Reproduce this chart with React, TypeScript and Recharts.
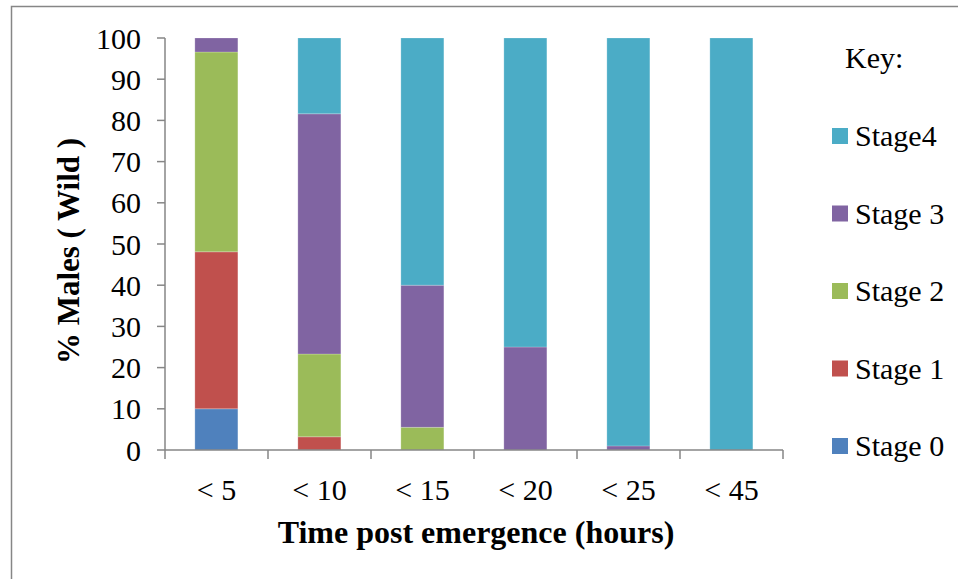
import React from 'react';
import { BarChart, Bar, XAxis, YAxis, Legend } from 'recharts';

const categories = ['< 5', '< 10', '< 15', '< 20', '< 25', '< 45'];
const stage0 = [10, 0, 0, 0, 0, 0];
const stage1 = [38.1, 3.2, 0, 0, 0, 0];
const stage2 = [48.5, 20.1, 5.5, 0, 0, 0];
const stage3 = [3.4, 58.3, 34.5, 25, 1, 0];
const stage4 = [0, 18.4, 60, 75, 99, 100];
const yTicks = [0, 10, 20, 30, 40, 50, 60, 70, 80, 90, 100];

const seriesNames = ['Stage 0', 'Stage 1', 'Stage 2', 'Stage 3', 'Stage4'];
const seriesColors = ['#4F81BD', '#C0504D', '#9BBB59', '#8064A2', '#4BACC6'];
const seriesValues = [stage0, stage1, stage2, stage3, stage4];

const data = categories.map((c, i) => {
  const row: Record<string, any> = { cat: c };
  seriesNames.forEach((n, k) => {
    row[n] = seriesValues[k][i];
  });
  return row;
});

const FONT = '"Liberation Serif", "Times New Roman", serif';
const AXIS = '#868686';
const X_TICK_SIZE = 9;
const X_TICK_MARGIN = 20;

const XTick = (props: any) => {
  const { x, y, payload, index, visibleTicksCount } = props;
  const half = payload && typeof payload.offset === 'number' ? payload.offset : 0;
  const axisY = y - X_TICK_SIZE - X_TICK_MARGIN;
  const isLast = index === (visibleTicksCount ?? categories.length) - 1;
  return (
    <g>
      {half > 0 && (
        <line x1={x - half} y1={axisY} x2={x - half} y2={axisY + X_TICK_SIZE} stroke={AXIS} strokeWidth={1.5} />
      )}
      {half > 0 && isLast && (
        <line x1={x + half} y1={axisY} x2={x + half} y2={axisY + X_TICK_SIZE} stroke={AXIS} strokeWidth={1.5} />
      )}
      <text x={x} y={y} dy="0.71em" textAnchor="middle" fontFamily={FONT} fontSize={30} fill="#000">
        {payload.value}
      </text>
    </g>
  );
};

const LegendContent = (props: any) => {
  const items = [...(props.payload || [])].reverse();
  return (
    <svg
      width={140}
      height={480}
      style={{ position: 'absolute', left: 820, top: 20, overflow: 'visible' }}
    >
      <text x={25} y={48} fontFamily={FONT} fontSize={30} fill="#000">
        Key:
      </text>
      {items.map((it: any, i: number) => {
        const cy = 116 + i * 77.5;
        return (
          <g key={it.value}>
            <rect x={12} y={cy - 8} width={16} height={16} fill={it.color} />
            <text x={35} y={cy + 10} fontFamily={FONT} fontSize={30} fill="#000">
              {it.value}
            </text>
          </g>
        );
      })}
    </svg>
  );
};

const YLabel = (props: any) => {
  const vb = props.viewBox || { x: 0, y: 0, width: 0, height: 0 };
  const cx = vb.x + 58;
  const cy = vb.y + vb.height / 2 + 7;
  return (
    <text
      x={cx}
      y={cy}
      transform={`rotate(-90 ${cx} ${cy})`}
      textAnchor="middle"
      dominantBaseline="central"
      fontFamily={FONT}
      fontWeight="bold"
      fontSize={31}
      fill="#000"
    >
      % Males ( Wild )
    </text>
  );
};

const XLabel = (props: any) => {
  const vb = props.viewBox || { x: 0, y: 0, width: 0, height: 0 };
  const cx = vb.x + vb.width / 2 + 2;
  const cy = vb.y + 93;
  return (
    <text x={cx} y={cy} textAnchor="middle" fontFamily={FONT} fontWeight="bold" fontSize={32} fill="#000">
      Time post emergence (hours)
    </text>
  );
};

export default function App() {
  return (
    <div style={{ position: 'absolute', left: 0, top: 0, width: 958, height: 579, background: '#fff' }}>
      <div style={{ position: 'absolute', left: 0, top: 0, width: 958, height: 579, overflow: 'hidden' }}>
        <BarChart
          width={958}
          height={579}
          data={data}
          margin={{ top: 38, right: 175, bottom: 19, left: 10 }}
          barCategoryGap="29%"
        >
          <XAxis
            dataKey="cat"
            height={110}
            axisLine={{ stroke: AXIS, strokeWidth: 1.5 }}
            tickLine={false}
            tickSize={X_TICK_SIZE}
            tickMargin={X_TICK_MARGIN}
            interval={0}
            tick={<XTick />}
            label={<XLabel />}
          />
          <YAxis
            width={155}
            domain={[0, 100]}
            ticks={yTicks}
            interval={0}
            tickSize={8}
            tickMargin={16}
            axisLine={{ stroke: AXIS, strokeWidth: 1.5 }}
            tickLine={{ stroke: AXIS, strokeWidth: 1.5 }}
            tick={{ fontFamily: FONT, fontSize: 30, fill: '#000' }}
            label={<YLabel />}
          />
          <Legend
            layout="vertical"
            align="right"
            verticalAlign="top"
            content={<LegendContent />}
            wrapperStyle={{ position: 'absolute', left: 0, top: 0, width: 0, height: 0, overflow: 'visible' }}
          />
          {seriesNames.map((n, k) => (
            <Bar
              key={n}
              dataKey={n}
              stackId="a"
              fill={seriesColors[k]}
              stroke="rgba(255,255,255,0.3)"
              strokeWidth={0.7}
              isAnimationActive={false}
            />
          ))}
        </BarChart>
      </div>
      <svg
        width={958}
        height={579}
        style={{ position: 'absolute', left: 0, top: 0, pointerEvents: 'none' }}
      >
        <path d="M11.5 579 V6.5 H958" fill="none" stroke={AXIS} strokeWidth={1.5} />
      </svg>
    </div>
  );
}
